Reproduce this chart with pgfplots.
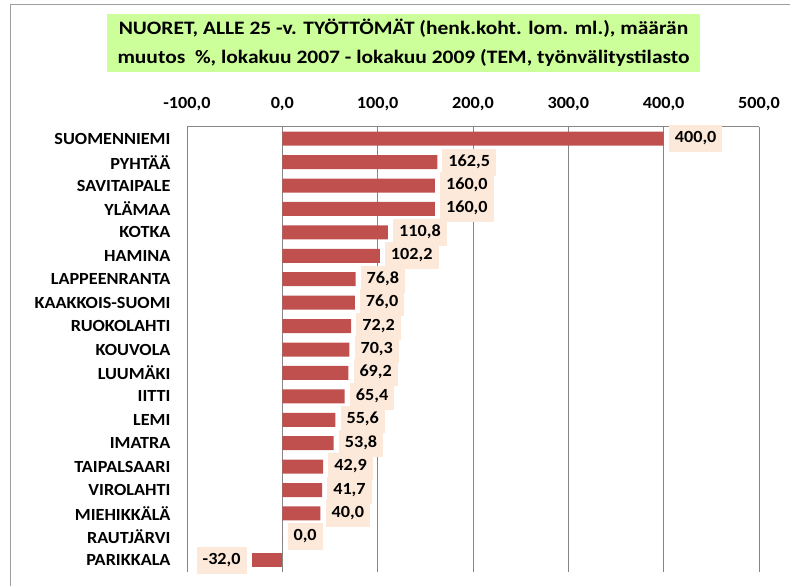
\documentclass[border=0pt]{standalone}
\usepackage{fontspec}
\setmainfont{Carlito}[FakeStretch=1.07]
\newfontfamily\titlefont{Carlito}[FakeStretch=1.13]
\usepackage{pgfplots}
\pgfplotsset{compat=1.18}
\definecolor{barred}{HTML}{C0504D}
\definecolor{lblbg}{HTML}{FDE9D9}
\definecolor{titlegreen}{HTML}{CCFF99}
\definecolor{gridgray}{HTML}{868686}
\begin{document}
\begin{tikzpicture}
\useasboundingbox (0,0) rectangle (790pt,586pt);
\draw[gridgray!80, line width=1pt] (10pt,0) -- (10pt,581pt) -- (790pt,581pt);
\node[fill=titlegreen, minimum width=593pt, minimum height=58pt, align=center,
      font=\titlefont\bfseries\fontsize{19}{29}\selectfont, inner sep=0pt]
      at (403.5pt,543pt) {NUORET, ALLE 25 -v. TYÖTTÖMÄT (henk.koht. lom. ml.), määrän\\muutos~ \%, lokakuu 2007 - lokakuu 2009 (TEM, työnvälitystilasto};
\begin{axis}[
  at={(187pt,14pt)}, anchor=south west,
  scale only axis, width=572pt, height=445pt,
  xbar, bar width=14pt,
  xmin=-100, xmax=500, xtick={-100,0,100,200,300,400,500},
  ymin=-0.5, ymax=18.5, y dir=reverse,
  ytick={0,...,18},
  yticklabels={SUOMENNIEMI, PYHTÄÄ, SAVITAIPALE, YLÄMAA, KOTKA, HAMINA, LAPPEENRANTA, KAAKKOIS-SUOMI\hspace{4pt}, RUOKOLAHTI, KOUVOLA, LUUMÄKI, IITTI, LEMI, IMATRA, TAIPALSAARI, VIROLAHTI, MIEHIKKÄLÄ, RAUTJÄRVI, PARIKKALA},
  axis x line*=top, axis y line*=left,
  axis line style={gridgray, line width=1pt},
  xmajorgrids, grid style={gridgray, line width=1pt},
  major tick length=0pt,
  tick label style={font=\bfseries\fontsize{17}{20}\selectfont, text=black},
  xticklabel style={yshift=13pt},
  yticklabel style={xshift=-13pt},
  /pgf/number format/assume math mode=true,
  /pgf/number format/fixed,
  /pgf/number format/fixed zerofill,
  /pgf/number format/precision=1,
  /pgf/number format/use comma,
  /pgf/number format/1000 sep={},
  clip=false,
  every node near coord/.style={fill=lblbg, text=black,
     font=\bfseries\fontsize{17}{20}\selectfont,
     inner xsep=6pt, inner ysep=6.5pt, text height=11pt, text depth=3pt},
]
\addplot[fill=barred, draw=none, bar shift=0pt, nodes near coords,
  nodes near coords style={anchor=west, xshift=5pt}] coordinates {
  (400.0,0) (162.5,1) (160.0,2) (160.0,3) (110.8,4) (102.2,5) (76.8,6)
  (76.0,7) (72.2,8) (70.3,9) (69.2,10) (65.4,11) (55.6,12) (53.8,13)
  (42.9,14) (41.7,15) (40.0,16) (0.0,17)
};
\addplot[fill=barred, draw=none, bar shift=0pt, nodes near coords,
  nodes near coords style={anchor=east, xshift=-5pt}] coordinates {
  (-32.0,18)
};
\end{axis}
\end{tikzpicture}
\end{document}
